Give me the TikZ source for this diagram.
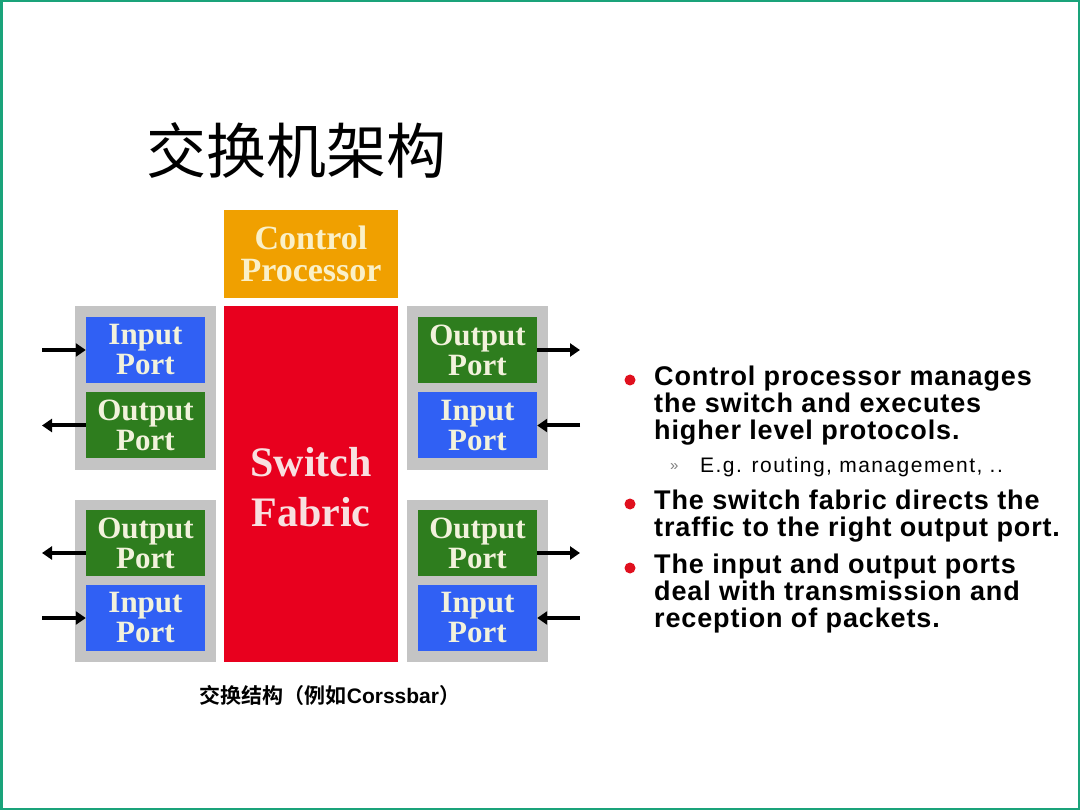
\documentclass[tikz,border=0pt]{standalone}
\usepackage{fontspec}
\setmainfont{Liberation Sans}
\newfontfamily\cjk{Noto Sans CJK SC}
\newfontfamily\cjkb{Noto Sans CJK SC Bold}
\newfontfamily\serifb{Liberation Serif}[BoldFont={* Bold}]
\newfontfamily\bulletfont{Liberation Sans}[LetterSpace=3.2]
\newfontfamily\subfont{Liberation Sans}[LetterSpace=7]
\usetikzlibrary{arrows.meta}
\definecolor{frame}{HTML}{1AA37A}
\definecolor{pgray}{HTML}{C4C4C4}
\definecolor{pblue}{HTML}{3060F4}
\definecolor{pgreen}{HTML}{2E7D1E}
\definecolor{pred}{HTML}{E8001E}
\definecolor{porange}{HTML}{F0A000}
\definecolor{ptext}{HTML}{F2F2DC}
\definecolor{ctext}{HTML}{FAF0C8}
\definecolor{stext}{HTML}{F8E0E0}
\definecolor{bullet}{HTML}{E0101E}
\tikzset{
  port/.style={minimum width=119pt, minimum height=66pt, inner sep=0pt, align=center,
    font=\serifb\bfseries\fontsize{31}{30}\selectfont, text=ptext},
  inport/.style={port, fill=pblue},
  outport/.style={port, fill=pgreen},
  grp/.style={fill=pgray, inner sep=0pt, minimum width=141pt},
  arr/.style={line width=4pt, -{Triangle[length=10pt,width=13pt]}},
  btext/.style={anchor=north west, align=left, inner sep=0pt,
    font=\bulletfont\bfseries\fontsize{27}{27}\selectfont},
  dot/.style={circle, fill=bullet, inner sep=0pt, minimum size=11pt}
}
\begin{document}
\begin{tikzpicture}[x=1pt,y=-1pt]
\useasboundingbox (0,0) rectangle (1080,810);
\fill[white] (0,0) rectangle (1080,810);
\draw[frame, line width=2.5pt] (1.25,1.25) rectangle (1078.75,808.75);

% title
\node[anchor=west, inner sep=0pt, font=\cjk\fontsize{60}{64}\selectfont] (title) at (146,150) {交换机架构};

% control processor and switch fabric
\node[fill=porange, minimum width=174pt, minimum height=88pt, inner sep=0pt, align=center,
  text=ctext, font=\serifb\bfseries\fontsize{34}{32}\selectfont] (cp) at (311,254) {Control\\Processor};
\node[fill=pred, minimum width=174pt, minimum height=356pt, inner sep=0pt] (sf) at (311,484) {};
\node[align=center, inner sep=0pt, text=stext, font=\serifb\bfseries\fontsize{42}{50}\selectfont] (sft) at (311,487) {Switch\\Fabric};

% gray groups
\node[grp, minimum height=164pt] (g1) at (145.5,388) {};
\node[grp, minimum height=162pt] (g2) at (145.5,581) {};
\node[grp, minimum height=164pt] (g3) at (477.5,388) {};
\node[grp, minimum height=162pt] (g4) at (477.5,581) {};

% ports
\node[inport]  (lin1)  at (145.5,350) {Input\\Port};
\node[outport] (lout1) at (145.5,425.5) {Output\\Port};
\node[outport] (lout2) at (145.5,543) {Output\\Port};
\node[inport]  (lin2)  at (145.5,618) {Input\\Port};
\node[outport] (rout1) at (477.5,350) {Output\\Port};
\node[inport]  (rin1)  at (477.5,425.5) {Input\\Port};
\node[outport] (rout2) at (477.5,543) {Output\\Port};
\node[inport]  (rin2)  at (477.5,618) {Input\\Port};

% arrow end coordinates
\coordinate (a1) at (42,350);
\coordinate (a2) at (42,425.5);
\coordinate (a3) at (42,553);
\coordinate (a4) at (42,618);
\coordinate (b1) at (580,350);
\coordinate (b2) at (580,425.5);
\coordinate (b3) at (580,553);
\coordinate (b4) at (580,618);

\draw[arr] (a1) -- (lin1.west);
\draw[arr] (lout1.west) -- (a2);
\draw[arr] (lout2.west |- a3) -- (a3);
\draw[arr] (a4) -- (lin2.west);
\draw[arr] (rout1.east) -- (b1);
\draw[arr] (b2) -- (rin1.east);
\draw[arr] (rout2.east |- b3) -- (b3);
\draw[arr] (b4) -- (rin2.east);

% caption
\node[inner sep=0pt, font=\cjkb\fontsize{21}{22}\selectfont] (cap) at (330,695) {交换结构（例如{\fontspec{Liberation Sans}\bfseries Corssbar}）};

% bullets
\node[dot] (d1) at (630,380) {};
\node[btext] (t1) at (654,366) {Control processor manages\\the switch and executes\\higher level protocols.};
\node[anchor=west, inner sep=0pt, text=gray, font=\fontsize{15}{16}\selectfont] (sb) at (670,467) {»};
\node[anchor=west, inner sep=0pt, font=\subfont\fontsize{21}{22}\selectfont] (st) at (700,467) {E.g. routing, management, ..};
\node[dot] (d2) at (630,504) {};
\node[btext] (t2) at (654,490) {The switch fabric directs the\\traffic to the right output port.};
\node[dot] (d3) at (630,568) {};
\node[btext] (t3) at (654,554) {The input and output ports\\deal with transmission and\\reception of packets.};
\end{tikzpicture}
\end{document}
